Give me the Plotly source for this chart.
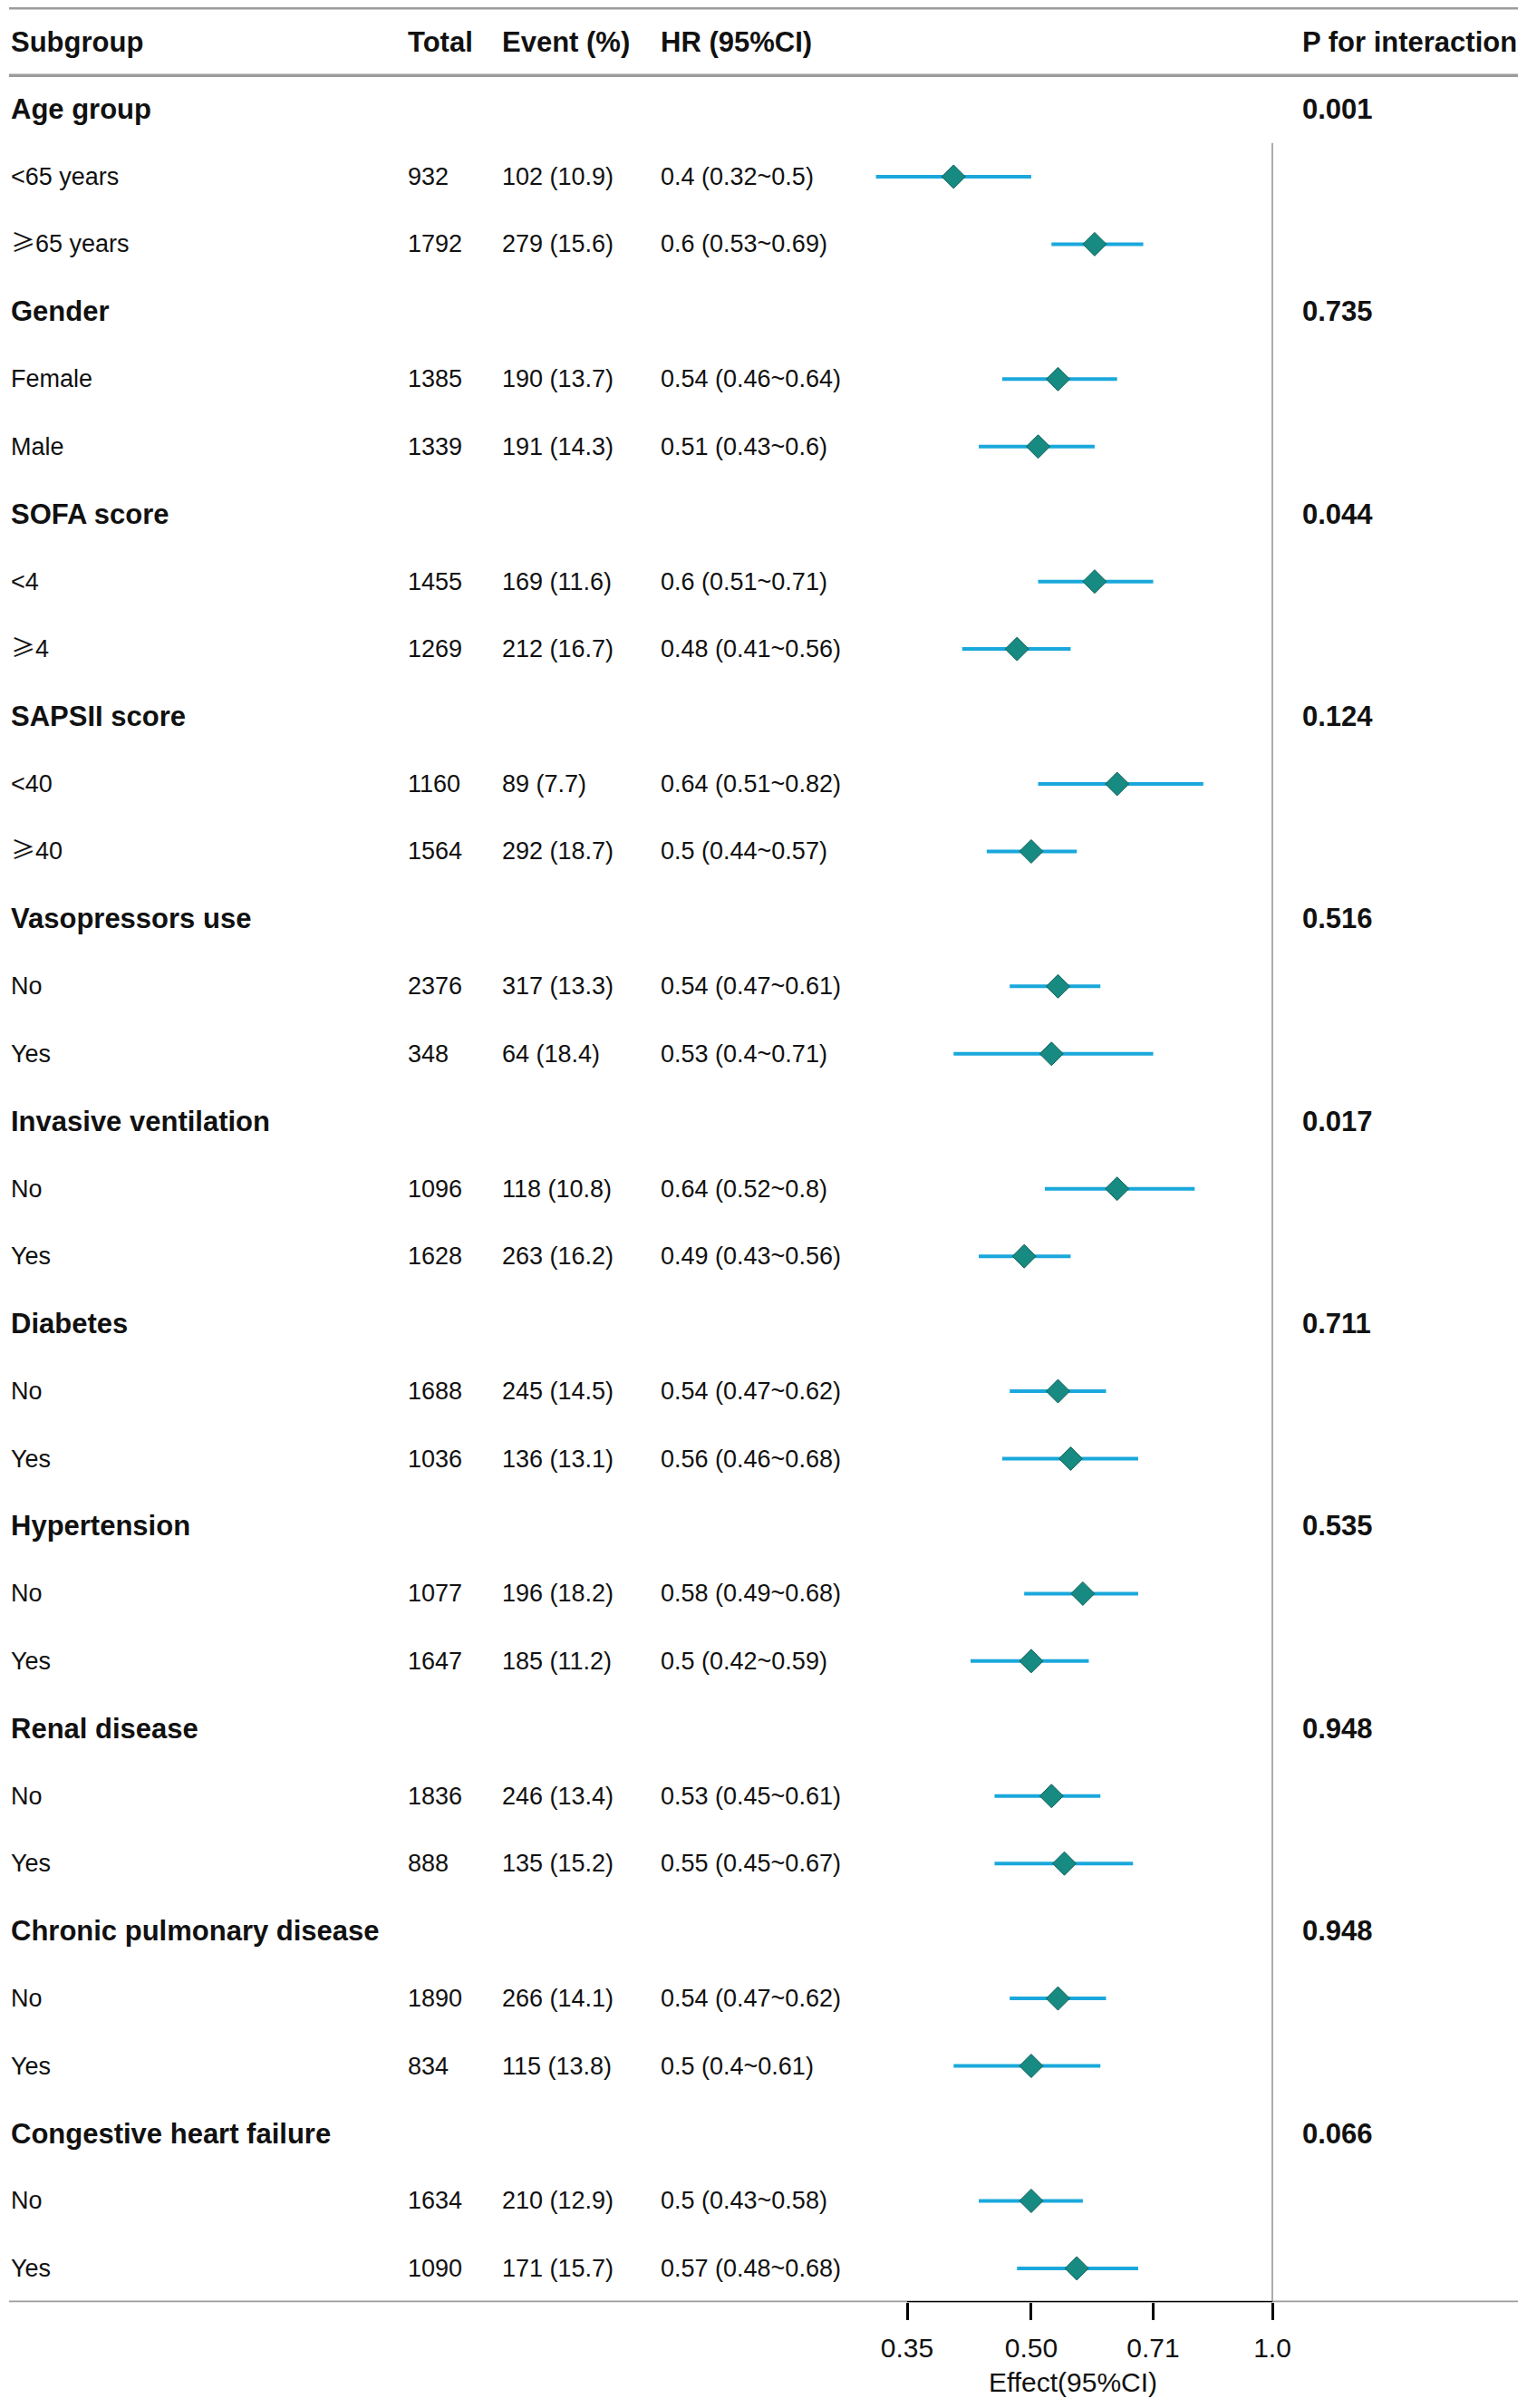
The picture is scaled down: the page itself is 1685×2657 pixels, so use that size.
import math
import plotly.graph_objects as go

# ---------------- data ----------------
groups = ["Age group", "Gender", "SOFA score", "SAPSII score", "Vasopressors use",
          "Invasive ventilation", "Diabetes", "Hypertension", "Renal disease",
          "Chronic pulmonary disease", "Congestive heart failure"]
p_interaction = ["0.001", "0.735", "0.044", "0.124", "0.516", "0.017",
                 "0.711", "0.535", "0.948", "0.948", "0.066"]
subgroups = [["<65 years", "≥65 years"], ["Female", "Male"], ["<4", "≥4"],
             ["<40", "≥40"], ["No", "Yes"], ["No", "Yes"], ["No", "Yes"],
             ["No", "Yes"], ["No", "Yes"], ["No", "Yes"], ["No", "Yes"]]
totals = [[932, 1792], [1385, 1339], [1455, 1269], [1160, 1564], [2376, 348],
          [1096, 1628], [1688, 1036], [1077, 1647], [1836, 888], [1890, 834],
          [1634, 1090]]
events = [["102 (10.9)", "279 (15.6)"], ["190 (13.7)", "191 (14.3)"],
          ["169 (11.6)", "212 (16.7)"], ["89 (7.7)", "292 (18.7)"],
          ["317 (13.3)", "64 (18.4)"], ["118 (10.8)", "263 (16.2)"],
          ["245 (14.5)", "136 (13.1)"], ["196 (18.2)", "185 (11.2)"],
          ["246 (13.4)", "135 (15.2)"], ["266 (14.1)", "115 (13.8)"],
          ["210 (12.9)", "171 (15.7)"]]
hr = [[0.4, 0.6], [0.54, 0.51], [0.6, 0.48], [0.64, 0.5], [0.54, 0.53],
      [0.64, 0.49], [0.54, 0.56], [0.58, 0.5], [0.53, 0.55], [0.54, 0.5],
      [0.5, 0.57]]
ci_low = [[0.32, 0.53], [0.46, 0.43], [0.51, 0.41], [0.51, 0.44], [0.47, 0.4],
          [0.52, 0.43], [0.47, 0.46], [0.49, 0.42], [0.45, 0.45], [0.47, 0.4],
          [0.43, 0.48]]
ci_high = [[0.5, 0.69], [0.64, 0.6], [0.71, 0.56], [0.82, 0.57], [0.61, 0.71],
           [0.8, 0.56], [0.62, 0.68], [0.68, 0.59], [0.61, 0.67], [0.62, 0.61],
           [0.58, 0.68]]
headers = ["Subgroup", "Total", "Event (%)", "HR (95%CI)", "P for interaction"]
tick_vals = [0.35, 0.50, 0.71, 1.0]
tick_text = ["0.35", "0.50", "0.71", "1.0"]

# ---------------- layout constants ----------------
OFF = 8                            # page body margin compensation
W, H = 1685 - OFF, 2657 - OFF
ROW0, STEP = 120.5 - OFF, 74.45    # pixel of first row, row spacing
N_ROWS = len(groups) * 3
Y_BOTTOM = N_ROWS - 0.5
y_top = -ROW0 / STEP
y_dom0 = 1 - (ROW0 + Y_BOTTOM * STEP) / H
COL_X = [10 - OFF, 448 - OFF, 552 - OFF, 727 - OFF, 1435 - OFF]
AX_L, AX_R = 940 - OFF, 1428 - OFF
P035, P1 = 1001 - OFF, 1404 - OFF
PX_PER_DEC = (P1 - P035) / (math.log10(1.0) - math.log10(0.35))
x_rng = [math.log10(0.35) - (P035 - AX_L) / PX_PER_DEC,
         math.log10(1.0) + (AX_R - P1) / PX_PER_DEC]

FONT = "Liberation Sans, Arial, Helvetica, sans-serif"
TXT = "#111111"
FS_B, FS_R = 31, 27

def fmt_label(s):
    # render the comparison sign with a CJK font, as in the original figure
    return s.replace("≥", "<span style='font-family:Noto Sans CJK SC'>≥</span>")

# ---------------- build rows ----------------
annotations = []
def add_text(col, y, text, bold=False, yshift=0):
    annotations.append(dict(
        x=COL_X[col] / W, xref="paper", y=y, yref="y", text=text,
        showarrow=False, xanchor="left", yanchor="middle", yshift=yshift,
        font=dict(family=FONT, size=FS_B if bold else FS_R, color=TXT)))

for c, h in enumerate(headers):
    add_text(c, -1, "<b>%s</b>" % h, bold=True)

pt_y, pt_x, pt_lo, pt_hi = [], [], [], []
row = 0
for g in range(len(groups)):
    add_text(0, row, "<b>%s</b>" % groups[g], bold=True)
    add_text(4, row, "<b>%s</b>" % p_interaction[g], bold=True)
    row += 1
    for k in range(2):
        lab = subgroups[g][k]
        add_text(0, row, fmt_label(lab), yshift=3 if "≥" in lab else 0)
        add_text(1, row, str(totals[g][k]))
        add_text(2, row, events[g][k])
        add_text(3, row, "%s (%s~%s)" % (hr[g][k], ci_low[g][k], ci_high[g][k]))
        pt_y.append(row)
        pt_x.append(hr[g][k])
        pt_lo.append(hr[g][k] - ci_low[g][k])
        pt_hi.append(ci_high[g][k] - hr[g][k])
        row += 1

fig = go.Figure()
# confidence intervals
fig.add_trace(go.Scatter(
    x=pt_x, y=pt_y, mode="markers", marker=dict(size=1, opacity=0),
    error_x=dict(type="data", symmetric=False, array=pt_hi, arrayminus=pt_lo,
                 color="#1AA8DC", thickness=4, width=0),
    hoverinfo="skip", showlegend=False))
# point estimates
fig.add_trace(go.Scatter(
    x=pt_x, y=pt_y, mode="markers",
    marker=dict(symbol="diamond", size=20, color="#178A82",
                line=dict(color="#0D625C", width=1)),
    showlegend=False))

line_gray = "#9c9c9c"
shapes = []
for yy in (-1.5, -0.5, Y_BOTTOM):
    shapes.append(dict(type="line", xref="paper", yref="y",
                       x0=(10 - OFF) / W, x1=(1675 - OFF) / W,
                       y0=yy, y1=yy, line=dict(color=line_gray, width=3.5)))
# reference line at 1.0
shapes.append(dict(type="line", xref="x", yref="y", x0=1.0, x1=1.0, y0=0.5,
                   y1=Y_BOTTOM, line=dict(color="#8f8f8f", width=1.5)))
# axis line spanning the tick range
shapes.append(dict(type="line", xref="x", yref="y", x0=tick_vals[0], x1=tick_vals[-1],
                   y0=Y_BOTTOM, y1=Y_BOTTOM, line=dict(color="#000000", width=2.5)))

fig.update_layout(
    width=W, height=H, margin=dict(l=0, r=0, t=0, b=0),
    paper_bgcolor="white", plot_bgcolor="white",
    font=dict(family=FONT, color=TXT),
    annotations=annotations, shapes=shapes,
    xaxis=dict(type="log", domain=[AX_L / W, AX_R / W], range=x_rng,
               tickvals=tick_vals, ticktext=tick_text, ticks="outside",
               ticklen=19, tickwidth=2.5, tickcolor="#000000",
               tickfont=dict(family=FONT, size=30, color=TXT),
               ticklabelstandoff=5,
               showline=False, showgrid=False, zeroline=False, anchor="y",
               title=dict(text="Effect(95%CI)", standoff=11,
                          font=dict(family=FONT, size=30, color=TXT))),
    yaxis=dict(domain=[y_dom0, 1], range=[Y_BOTTOM, y_top], visible=False,
               showgrid=False, zeroline=False),
)
fig.write_html("out.html")
